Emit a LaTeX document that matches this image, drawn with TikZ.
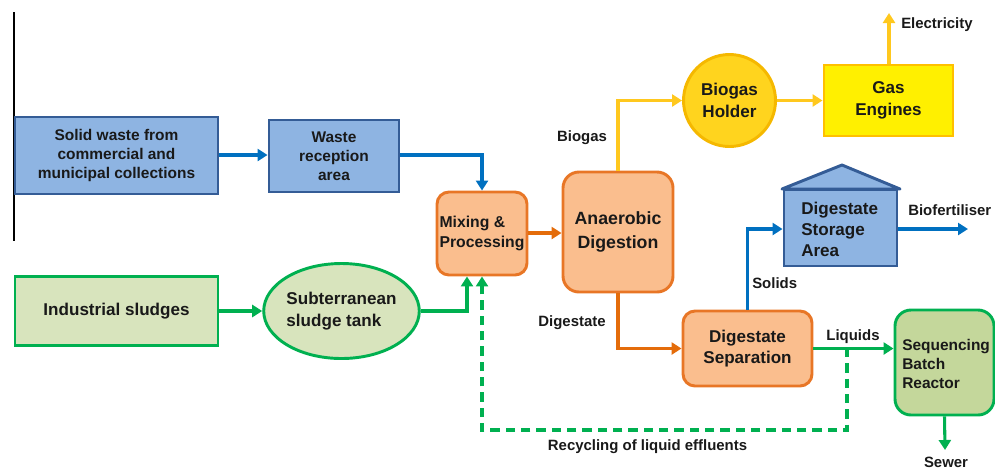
\documentclass[tikz,border=0pt]{standalone}
\usepackage{fontspec}
\setmainfont{Liberation Sans}
\usetikzlibrary{arrows.meta,shapes.geometric}
\definecolor{bfill}{RGB}{142,180,226}
\definecolor{bline}{RGB}{52,92,150}
\definecolor{barrow}{RGB}{0,112,192}
\definecolor{ofill}{RGB}{250,190,142}
\definecolor{oline}{RGB}{232,118,38}
\definecolor{oarrow}{RGB}{228,108,10}
\definecolor{hfill}{RGB}{255,212,30}
\definecolor{hline}{RGB}{245,184,0}
\definecolor{gefill}{RGB}{255,240,0}
\definecolor{geline}{RGB}{255,192,0}
\definecolor{yarrow}{RGB}{255,200,30}
\definecolor{gline}{RGB}{0,176,80}
\definecolor{gfillA}{RGB}{216,228,189}
\definecolor{gfillB}{RGB}{196,215,155}
\definecolor{txt}{RGB}{25,25,25}
\def\pxu{0.75pt}
\tikzset{
  every node/.style={text=txt, font=\bfseries\fontsize{11.6}{14.2}\selectfont, inner sep=0pt},
  boxbase/.style={draw, line width=2.2pt, align=center},
  bluebox/.style={boxbase, fill=bfill, draw=bline},
  orbox/.style={boxbase, fill=ofill, draw=oline, rounded corners=9pt},
  grbox/.style={boxbase, fill=gfillA, draw=gline},
  flow/.style={line width=2.3pt, -{Triangle[length=7.5pt,width=9pt]}},
  bflow/.style={flow, draw=barrow},
  oflow/.style={flow, draw=oarrow},
  yflow/.style={flow, draw=yarrow},
  gflow/.style={flow, draw=gline},
  lbl/.style={font=\bfseries\fontsize{11.2}{13.5}\selectfont},
  bigf/.style={font=\bfseries\fontsize{12.8}{16}\selectfont},
}
\begin{document}
\begin{tikzpicture}[x=0.75pt,y=-0.75pt]
\useasboundingbox (0,0) rectangle (995,469);
\draw[line width=0.9pt, black] (14,12) -- (14,241);

% nodes
\node[bluebox, minimum width=203*\pxu, minimum height=77*\pxu] (sw) at (116.5,155.5) {Solid waste from\\commercial and\\municipal collections};
\node[bluebox, minimum width=130*\pxu, minimum height=72*\pxu] (wr) at (334,156) {Waste\\reception\\area};
\node[orbox, minimum width=90*\pxu, minimum height=83*\pxu, align=left, font=\bfseries\fontsize{11.8}{15}\selectfont] (mix) at (482,233.5) {Mixing \&\\Processing};
\node[orbox, rounded corners=12pt, minimum width=110*\pxu, minimum height=120*\pxu, font=\bfseries\fontsize{13.3}{18}\selectfont] (ad) at (618,232) {Anaerobic\\Digestion};
\node[circle, boxbase, fill=hfill, draw=hline, minimum size=92*\pxu, bigf] (bh) at (729.5,100.5) {Biogas\\Holder};
\node[boxbase, fill=gefill, draw=geline, minimum width=129*\pxu, minimum height=71*\pxu, bigf] (ge) at (888.5,100.5) {Gas\\Engines};
\node[orbox, minimum width=129*\pxu, minimum height=75*\pxu, bigf] (ds) at (747.5,348.5) {Digestate\\Separation};
\node[grbox, fill=gfillB, rounded corners=12pt, minimum width=99*\pxu, minimum height=105*\pxu] (sbr) at (944.5,362.5) {};
\node[anchor=west, align=left, font=\bfseries\fontsize{11.6}{14.2}\selectfont] (sbrt) at (902,364) {Sequencing\\Batch\\Reactor};
\node[grbox, minimum width=203*\pxu, minimum height=69*\pxu, bigf] (ind) at (116.5,311) {Industrial sludges};
\node[ellipse, boxbase, fill=gfillA, draw=gline, minimum width=147*\pxu, minimum height=95*\pxu, align=left, bigf] (tank) at (341.5,311) {Subterranean\\sludge tank};

% storage house
\node[boxbase, fill=bfill, draw=bline, minimum width=113*\pxu, minimum height=76*\pxu] (st) at (840.5,228) {};
\draw[line width=2.2pt, draw=bline, fill=bfill, line join=round] (782,189) -- (842,165) -- (900,189) -- cycle;
\node[anchor=west, align=left, bigf, font=\bfseries\fontsize{12.8}{15.8}\selectfont] (stt) at (801,229) {Digestate\\Storage\\Area};

% coordinates
\coordinate (elec) at (889,13);
\coordinate (biof) at (968,229);
\coordinate (sewer) at (945,450);
\coordinate (liqj) at (847,348);

% connectors
\draw[bflow] (sw.east |- 0,155) -- (wr.west |- 0,155);
\draw[bflow] (wr.east |- 0,155) -| (mix.north);
\draw[oflow] (mix.east |- 0,233) -- (ad.west |- 0,233);
\draw[yflow] (ad.north) |- (bh.west);
\draw[yflow] (bh.east) -- (ge.west);
\draw[yflow] (ge.north -| elec) -- (elec);
\draw[oflow] (ad.south) |- (ds.west);
\draw[bflow] (ds.north) |- (st.west |- biof);
\draw[bflow] (st.east |- biof) -- (biof);
\draw[gflow] (ds.east) -- (sbr.west |- ds.east);
\draw[gflow] (sbr.south) -- (sewer);
\draw[gflow] (ind.east) -- (tank.west);
\draw[gflow] (tank.east) -| (mix.south -| 467,0);
\draw[line width=2.3pt, draw=gline, dash pattern=on 7pt off 4.5pt, -{Triangle[length=7.5pt,width=9pt]}] (liqj) -- (847,430) -| (mix.south);

% labels
\node[lbl] (lbio) at (582,138) {Biogas};
\node[lbl, anchor=west] (lel) at (901,25) {Electricity};
\node[lbl, anchor=west] (lbf) at (908,210) {Biofertiliser};
\node[lbl, anchor=west] (lsol) at (752,283) {Solids};
\node[lbl] (ldig) at (572,323) {Digestate};
\node[lbl] (lliq) at (853,337) {Liquids};
\node[lbl] (lsew) at (946,462) {Sewer};
\node[lbl] (lrec) at (647.5,447) {Recycling of liquid effluents};
\end{tikzpicture}
\end{document}
